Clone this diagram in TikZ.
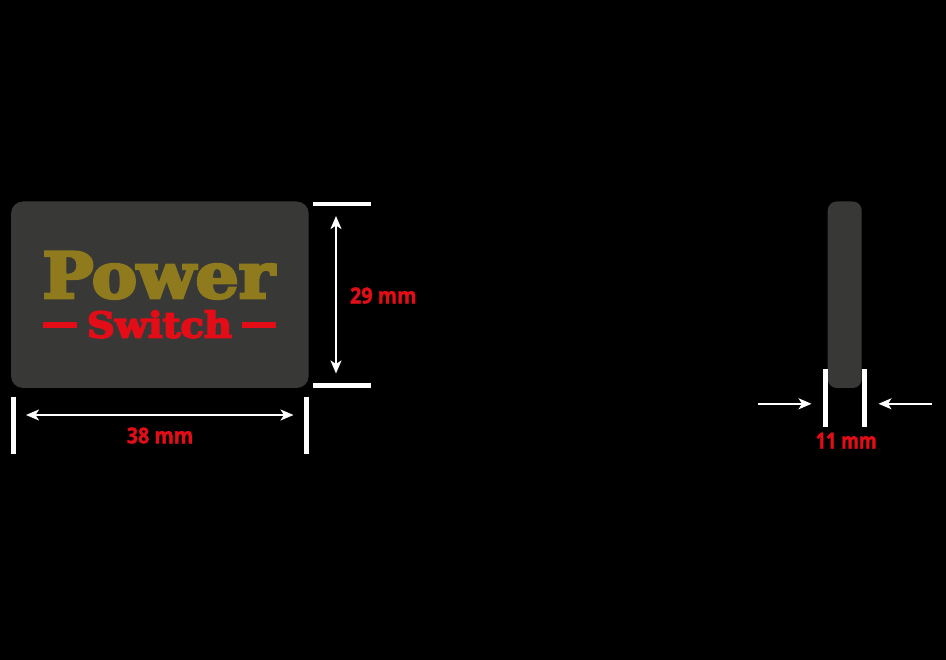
\documentclass[tikz,border=0pt]{standalone}
\usepackage{fontspec}
\usepackage{graphicx}
\setmainfont{Open Sans}[BoldFeatures={FakeBold=1.6}]
\newfontfamily\slabfont{DejaVu Serif Bold}[FakeBold=4.5]
\usetikzlibrary{arrows.meta}
\definecolor{bodygray}{HTML}{383837}
\definecolor{gold}{HTML}{8F7A1E}
\definecolor{redlabel}{HTML}{E30D17}
\tikzset{
  x=1pt,y=-1pt,
  body/.style={fill=bodygray,draw=none},
  bar/.style={draw=white,line width=4.7pt},
  dim/.style={draw=white,line width=1.8pt,{Stealth[length=13pt,width=11pt,inset=3.5pt]}-{Stealth[length=13pt,width=11pt,inset=3.5pt]}},
  dimone/.style={draw=white,line width=1.8pt,-{Stealth[length=13pt,width=11pt,inset=3.5pt]}},
  dimlabel/.style={text=redlabel,font=\bfseries\fontsize{20}{20}\selectfont,inner sep=0pt,anchor=center},
  redbar/.style={draw=redlabel,line width=6.3pt}
}
\begin{document}
\begin{tikzpicture}
\useasboundingbox[fill=black] (0,0) rectangle (946,660);
% front face
\fill[body,rounded corners=12pt] (11,201.5) rectangle (308.7,388);
\node[inner sep=0pt,text=gold] (power) at (158.5,275.3) {\resizebox{232pt}{46pt}{\slabfont Power}};
\node[inner sep=0pt,text=redlabel] (switch) at (159.5,324.3) {\resizebox{145pt}{27pt}{\slabfont Switch}};
\coordinate (rl1) at (43.3,325.3); \coordinate (rl2) at (77.3,325.3);
\coordinate (rr1) at (241.7,325.3); \coordinate (rr2) at (275.8,325.3);
\draw[redbar] (rl1) -- (rl2);
\draw[redbar] (rr1) -- (rr2);
% side view
\fill[body,rounded corners=9pt] (827.7,201.5) rectangle (861.7,388);
% width dimension
\coordinate (wa1) at (13.5,396.7); \coordinate (wa2) at (13.5,454.3);
\coordinate (wb1) at (306.2,396.7); \coordinate (wb2) at (306.2,454.3);
\draw[bar] (wa1) -- (wa2);
\draw[bar] (wb1) -- (wb2);
\coordinate (wl) at (26,415); \coordinate (wr) at (293.5,415);
\draw[dim] (wl) -- (wr);
\node[dimlabel] (w) at (160,435.5) {\resizebox{66.5pt}{16pt}{38 mm}};
% height dimension
\coordinate (ha1) at (313,204); \coordinate (ha2) at (371,204);
\coordinate (hb1) at (313,385.6); \coordinate (hb2) at (371,385.6);
\draw[bar] (ha1) -- (ha2);
\draw[bar] (hb1) -- (hb2);
\coordinate (ht) at (336,216); \coordinate (hb) at (336,373.5);
\draw[dim] (ht) -- (hb);
\node[dimlabel] (h) at (383.3,295.5) {\resizebox{66.5pt}{16pt}{29 mm}};
% depth dimension
\coordinate (da1) at (825.2,369.5); \coordinate (da2) at (825.2,427);
\coordinate (db1) at (864.2,369.5); \coordinate (db2) at (864.2,427);
\draw[bar] (da1) -- (da2);
\draw[bar] (db1) -- (db2);
\coordinate (dl1) at (758,403.8); \coordinate (dl2) at (811.5,403.8);
\coordinate (dr1) at (932,403.8); \coordinate (dr2) at (878.5,403.8);
\draw[dimone] (dl1) -- (dl2);
\draw[dimone] (dr1) -- (dr2);
\node[dimlabel] (d) at (846.2,440.7) {\resizebox{61pt}{16pt}{11 mm}};
\end{tikzpicture}
\end{document}
